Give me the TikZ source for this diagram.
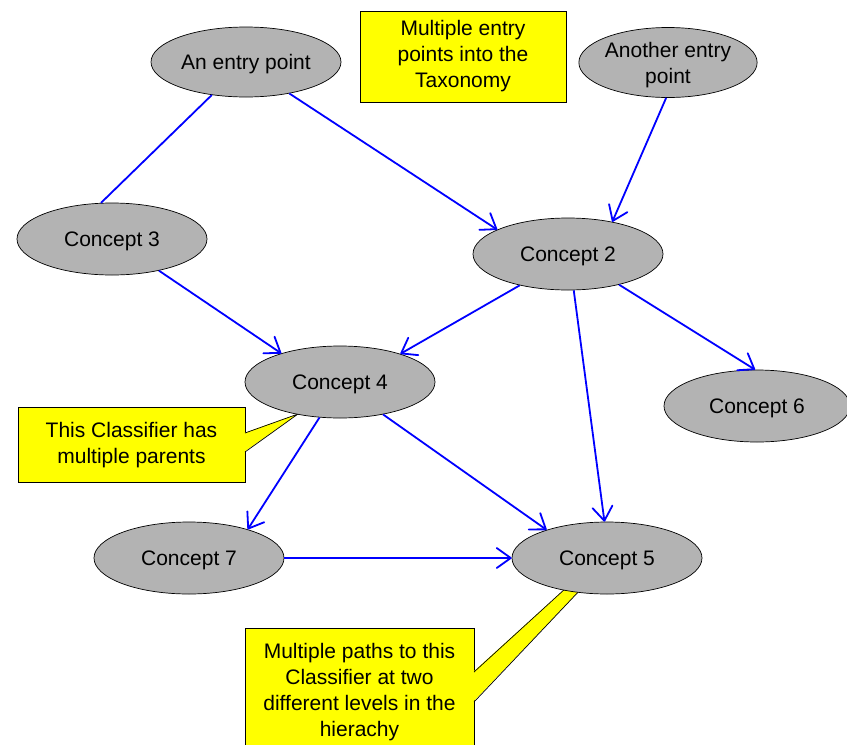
\documentclass[tikz,border=0pt]{standalone}
\usepackage{fontspec}
\setmainfont{Liberation Sans}
\usetikzlibrary{shapes.geometric,arrows.meta}
\definecolor{conceptgray}{RGB}{179,179,179}
\definecolor{noteyellow}{RGB}{255,255,0}
\definecolor{edgeblue}{RGB}{0,0,255}
\begin{document}
\begin{tikzpicture}[x=1pt,y=-1pt,
  concept/.style={ellipse,draw=black,line width=0.7pt,fill=conceptgray,minimum width=190pt,minimum height=72pt,inner sep=0pt,align=center,text depth=0pt,font=\fontsize{21}{26}\selectfont},
  note/.style={rectangle,draw=black,line width=0.7pt,fill=noteyellow,inner sep=0pt,align=center,font=\fontsize{21}{26}\selectfont},
  edge/.style={draw=edgeblue,line width=1.8pt},
  arr/.style={edge,-{Straight Barb[length=14pt,width=20pt,line width=1.8pt,round]}}
]
\useasboundingbox (0,0) rectangle (847,745);

% callout notes (drawn first so ellipses sit over pointer tips)
\node[note,minimum width=227pt,minimum height=75pt] (n1) at (131.5,445) {This Classifier has\\multiple parents};
\coordinate (n1a) at (245,433);
\coordinate (n1b) at (245,452);
\coordinate (n1t) at (298,414);
\fill[noteyellow] ([xshift=-1pt]n1a) -- (n1t) -- ([xshift=-1pt]n1b) -- cycle;
\draw[line width=0.7pt] (n1a) -- (n1t) -- (n1b);

\node[note,minimum width=229pt,minimum height=128pt] (n2) at (359.5,692) {Multiple paths to this\\Classifier at two\\different levels in the\\hierachy};
\coordinate (n2a) at (474,672);
\coordinate (n2b) at (474,702);
\coordinate (n2t1) at (566,588);
\coordinate (n2t2) at (582,588);
\fill[noteyellow] ([xshift=-1pt]n2a) -- (n2t1) -- (n2t2) -- ([xshift=-1pt]n2b) -- cycle;
\draw[line width=0.7pt] (n2a) -- (n2t1);
\draw[line width=0.7pt] (n2b) -- (n2t2);

\node[note,minimum width=206pt,minimum height=91pt] (n3) at (463,56.5) {Multiple entry\\points into the\\Taxonomy};

% concepts
\node[concept,minimum height=70pt] (e1) at (246,62) {An entry point};
\node[concept,minimum width=160pt,minimum height=70pt] (e2) at (668,62.5) {Another entry\\point};
\node[concept] (c3) at (112,239) {Concept 3};
\node[concept] (c2) at (568,254) {Concept 2};
\node[concept] (c4) at (340,382) {Concept 4};
\node[concept,minimum width=186pt] (c6) at (757,406) {Concept 6};
\node[concept] (c7) at (189,558) {Concept 7};
\node[concept] (c5) at (607,558) {Concept 5};

% connectors
\draw[edge] (e1.-136) -- (c3.107);
\draw[arr] (e1.-36) -- (c2.161);
\draw[arr] (e2.-93) -- (c2.36);
\draw[arr] (c3.-34) -- (c4.154);
\draw[arr] (c2.-147) -- (c4.25);
\draw[arr] (c2.-81) -- (c5.94);
\draw[arr] (c2.-31) -- (c6.93);
\draw[arr] (c4.-120) -- (c7.26);
\draw[arr] (c4.-37) -- (c5.155);
\draw[arr] (c7.east) -- (c5.west);
\end{tikzpicture}
\end{document}
